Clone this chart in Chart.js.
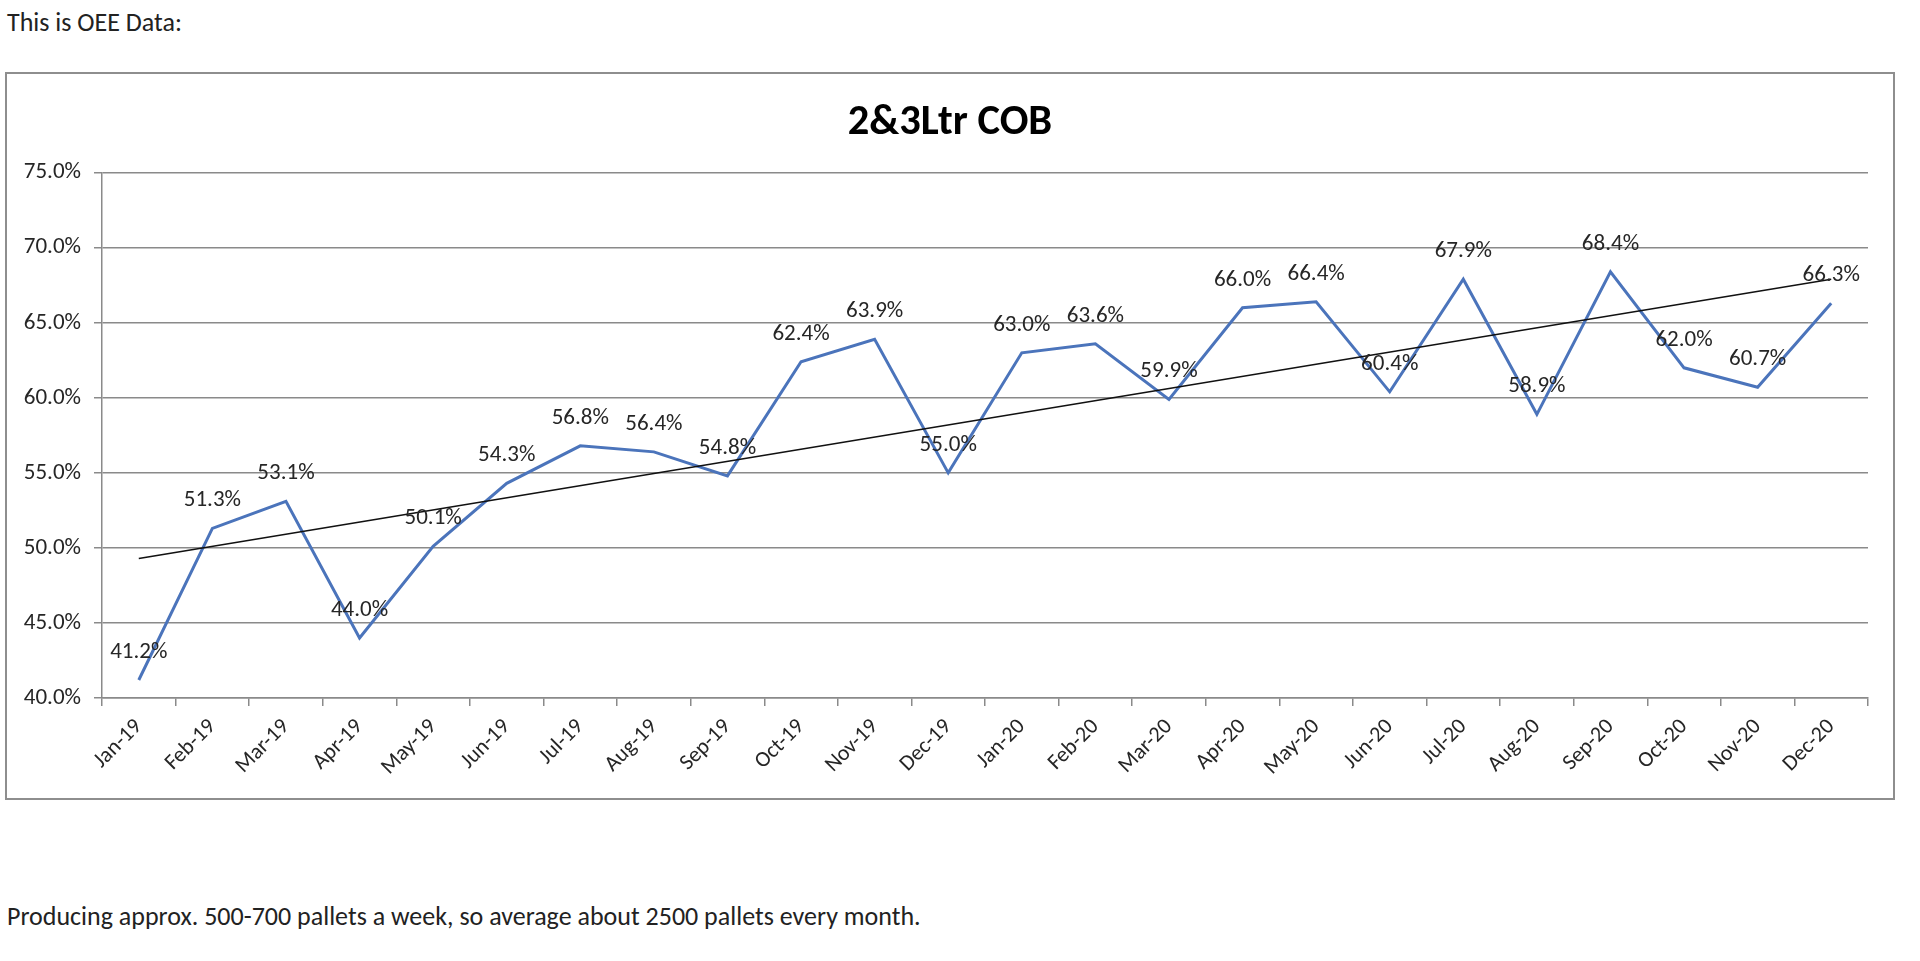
<!DOCTYPE html>
<html>
<head>
<meta charset="utf-8">
<script src="https://cdn.jsdelivr.net/npm/chart.js@4"></script>
<style>
  html, body { margin: 0; padding: 0; background: #fff; }
  body { width: 1920px; height: 961px; position: relative; overflow: hidden;
         font-family: Carlito, 'Open Sans', sans-serif; color: #222; }
  .note { position: absolute; left: 7px; font-size: 26px; line-height: 26px; white-space: nowrap; }
  #top-note { top: 9px; }
  #bottom-note { top: 903px; }
  #chart-box { position: absolute; left: 5px; top: 72px; width: 1886px; height: 724px;
               border: 2px solid #8e8e8e; }
  #chart-box canvas { display: block; }
</style>
</head>
<body>
<div class="note" id="top-note">This is OEE Data:</div>
<div id="chart-box"><canvas id="oee" width="1886" height="724"></canvas></div>
<div class="note" id="bottom-note">Producing approx. 500-700 pallets a week, so average about 2500 pallets every month.</div>

<script>
// --- Data ---
const months = ['Jan-19','Feb-19','Mar-19','Apr-19','May-19','Jun-19','Jul-19','Aug-19','Sep-19','Oct-19','Nov-19','Dec-19',
                'Jan-20','Feb-20','Mar-20','Apr-20','May-20','Jun-20','Jul-20','Aug-20','Sep-20','Oct-20','Nov-20','Dec-20'];
const oee = [41.2, 51.3, 53.1, 44.0, 50.1, 54.3, 56.8, 56.4, 54.8, 62.4, 63.9, 55.0,
             63.0, 63.6, 59.9, 66.0, 66.4, 60.4, 67.9, 58.9, 68.4, 62.0, 60.7, 66.3];
// linear trendline ends (first and last month)
const trendEnds = [49.3, 67.9];
const yTicks = [40, 45, 50, 55, 60, 65, 70, 75];

const FONT = "Carlito, 'Open Sans', sans-serif";
const TEXT = '#262626';
const GRID = '#8a8a8a';

// --- Data labels (above each point) ---
const pointLabels = {
  id: 'pointLabels',
  afterDatasetsDraw(chart) {
    const meta = chart.getDatasetMeta(0);
    const ctx = chart.ctx;
    ctx.save();
    ctx.font = '23px ' + FONT;
    ctx.fillStyle = TEXT;
    ctx.textAlign = 'center';
    ctx.textBaseline = 'middle';
    meta.data.forEach((pt, i) => {
      ctx.fillText(oee[i].toFixed(1) + '%', pt.x, pt.y - 28);
    });
    ctx.restore();
  }
};

const trendData = [{ x: months[0], y: trendEnds[0] }, { x: months[months.length - 1], y: trendEnds[1] }];

new Chart(document.getElementById('oee'), {
  type: 'line',
  data: {
    labels: months,
    datasets: [
      { data: oee, borderColor: '#4b74bb', borderWidth: 3, pointRadius: 0, tension: 0, order: 1 },
      { data: trendData, borderColor: '#111', borderWidth: 1.5, pointRadius: 0, tension: 0, order: 0 }
    ]
  },
  options: {
    responsive: false,
    animation: false,
    devicePixelRatio: 1,
    layout: { padding: 0 },
    plugins: {
      legend: { display: false },
      tooltip: { enabled: false },
      title: {
        display: true,
        text: '2&3Ltr COB',
        color: '#000',
        font: { family: FONT, size: 42.5, weight: 'bold', lineHeight: 1.2 },
        padding: { top: 23.5, bottom: 24.2 }
      }
    },
    scales: {
      x: {
        offset: true,
        grid: { offset: true, drawOnChartArea: false, drawTicks: true, tickLength: 8, color: GRID, lineWidth: 1.5 },
        border: { display: true, color: GRID, width: 1.5 },
        ticks: { color: TEXT, font: { family: FONT, size: 22 }, minRotation: 45, maxRotation: 45, padding: 8, autoSkip: false },
        afterFit(s) { s.height = 100; }
      },
      y: {
        min: 40, max: 75,
        afterBuildTicks(s) { s.ticks = yTicks.map(v => ({ value: v })); },
        grid: { color: GRID, lineWidth: 1.5, drawTicks: true, tickLength: 8 },
        border: { display: true, color: GRID, width: 1.5 },
        ticks: { color: TEXT, font: { family: FONT, size: 23 }, padding: 13, callback: v => v.toFixed(1) + '%' },
        afterFit(s) { s.width = 95; }
      },
      // empty right axis, only reserves the white margin right of the plot
      yRight: {
        position: 'right',
        min: 40, max: 75,
        grid: { display: false },
        border: { display: false },
        ticks: { display: false },
        afterFit(s) { s.width = 25; }
      }
    }
  },
  plugins: [pointLabels]
});
</script>
</body>
</html>
